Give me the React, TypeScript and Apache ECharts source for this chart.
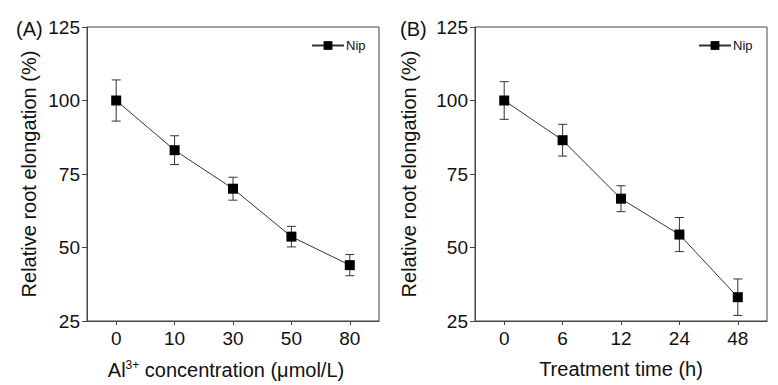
import React, { useEffect, useRef } from "react";
import * as echarts from "echarts";

const catA = ["0", "10", "30", "50", "80"];
const meanA = [100, 83.1, 70, 53.7, 44];
const errA = [7, 4.9, 3.9, 3.5, 3.6];

const catB = ["0", "6", "12", "24", "48"];
const meanB = [100, 86.5, 66.6, 54.4, 33.1];
const errB = [6.4, 5.4, 4.4, 5.8, 6.2];

const yTicks = [25, 50, 75, 100, 125];
const seriesName = "Nip";
const FONT = "Arial, 'Liberation Sans', sans-serif";
const AXIS_COLOR = "#444";

function errRender(params: any, api: any) {
  const x = api.value(0);
  const m = api.value(1);
  const e = api.value(2);
  const top = api.coord([x, m + e]);
  const bot = api.coord([x, m - e]);
  const half = 4.5;
  const style = { stroke: "#333", lineWidth: 1 };
  return {
    type: "group",
    children: [
      { type: "line", shape: { x1: top[0], y1: top[1], x2: bot[0], y2: bot[1] }, style },
      { type: "line", shape: { x1: top[0] - half, y1: top[1], x2: top[0] + half, y2: top[1] }, style },
      { type: "line", shape: { x1: bot[0] - half, y1: bot[1], x2: bot[0] + half, y2: bot[1] }, style },
    ],
  };
}

function xAxisCfg(cats: string[], gridIndex: number, name: string, padding: number[]) {
  return {
    type: "category",
    gridIndex,
    data: cats,
    boundaryGap: true,
    name,
    nameLocation: "middle",
    nameGap: 38,
    nameTextStyle: {
      fontFamily: FONT,
      fontSize: 20,
      color: "#111",
      padding,
      rich: {
        a: { fontFamily: FONT, fontSize: 20, color: "#111", lineHeight: 22 },
        sup: { fontFamily: FONT, fontSize: 12, color: "#111", lineHeight: 12, verticalAlign: "top" },
      },
    },
    axisLine: { show: true, lineStyle: { color: AXIS_COLOR, width: 1 } },
    axisTick: { show: true, alignWithLabel: true, inside: false, length: 4, lineStyle: { color: AXIS_COLOR } },
    axisLabel: { fontFamily: FONT, fontSize: 19, color: "#111", margin: 8 },
    splitLine: { show: false },
  };
}

function yAxisCfg(gridIndex: number, nameGap: number) {
  return {
    type: "value",
    gridIndex,
    min: yTicks[0],
    max: yTicks[yTicks.length - 1],
    interval: 25,
    name: "Relative root elongation (%)",
    nameLocation: "middle",
    nameGap,
    nameTextStyle: { fontFamily: FONT, fontSize: 20, color: "#111" },
    axisLine: { show: true, lineStyle: { color: AXIS_COLOR, width: 1 } },
    axisTick: { show: true, inside: false, length: 5, lineStyle: { color: AXIS_COLOR } },
    axisLabel: { fontFamily: FONT, fontSize: 19, color: "#111", margin: 7 },
    splitLine: { show: false },
  };
}

function lineSeries(idx: number, means: number[]) {
  return {
    type: "line",
    name: seriesName,
    xAxisIndex: idx,
    yAxisIndex: idx,
    data: means,
    symbol: "rect",
    symbolSize: 10,
    itemStyle: { color: "#000" },
    lineStyle: { color: "#333", width: 1 },
    z: 3,
  };
}

function errSeries(idx: number, means: number[], errs: number[]) {
  return {
    type: "custom",
    name: "err" + idx,
    xAxisIndex: idx,
    yAxisIndex: idx,
    data: means.map((m, i) => [i, m, errs[i]]),
    renderItem: errRender,
    z: 2,
    silent: true,
  };
}

function legendCfg(left: number) {
  return {
    data: [seriesName],
    left,
    top: 34,
    itemWidth: 32,
    itemHeight: 11,
    itemGap: 3,
    selectedMode: false,
    textStyle: { fontFamily: FONT, fontSize: 13, color: "#111", padding: [0, 0, 0, -3] },
  };
}

export default function App() {
  const ref = useRef<HTMLDivElement>(null);
  useEffect(() => {
    if (!ref.current) return;
    const chart = echarts.init(ref.current, undefined, { renderer: "svg" });
    chart.setOption({
      animation: false,
      backgroundColor: "#fff",
      title: [
        { text: "(A)", left: 11, top: 14, textStyle: { fontFamily: FONT, fontSize: 20, fontWeight: "normal", color: "#111" } },
        { text: "(B)", left: 395, top: 14, textStyle: { fontFamily: FONT, fontSize: 20, fontWeight: "normal", color: "#111" } },
      ],
      legend: [legendCfg(306), legendCfg(693)],
      grid: [
        { left: 87, top: 27, width: 292, height: 294, show: true, borderColor: AXIS_COLOR, borderWidth: 1, backgroundColor: "transparent" },
        { left: 475, top: 27, width: 292, height: 294, show: true, borderColor: AXIS_COLOR, borderWidth: 1, backgroundColor: "transparent" },
      ],
      xAxis: [
        xAxisCfg(catA, 0, "{a|Al}{sup|3+}{a| concentration (μmol/L)}", [0, 14, 0, 0]),
        xAxisCfg(catB, 1, "Treatment time (h)", [0, 0, 0, 0]),
      ],
      yAxis: [yAxisCfg(0, 48), yAxisCfg(1, 56)],
      series: [
        errSeries(0, meanA, errA),
        lineSeries(0, meanA),
        errSeries(1, meanB, errB),
        lineSeries(1, meanB),
      ],
    });
    return () => chart.dispose();
  }, []);
  return (
    <div
      ref={ref}
      style={{ position: "absolute", left: 0, top: 0, width: 778, height: 385, background: "#fff" }}
    />
  );
}
